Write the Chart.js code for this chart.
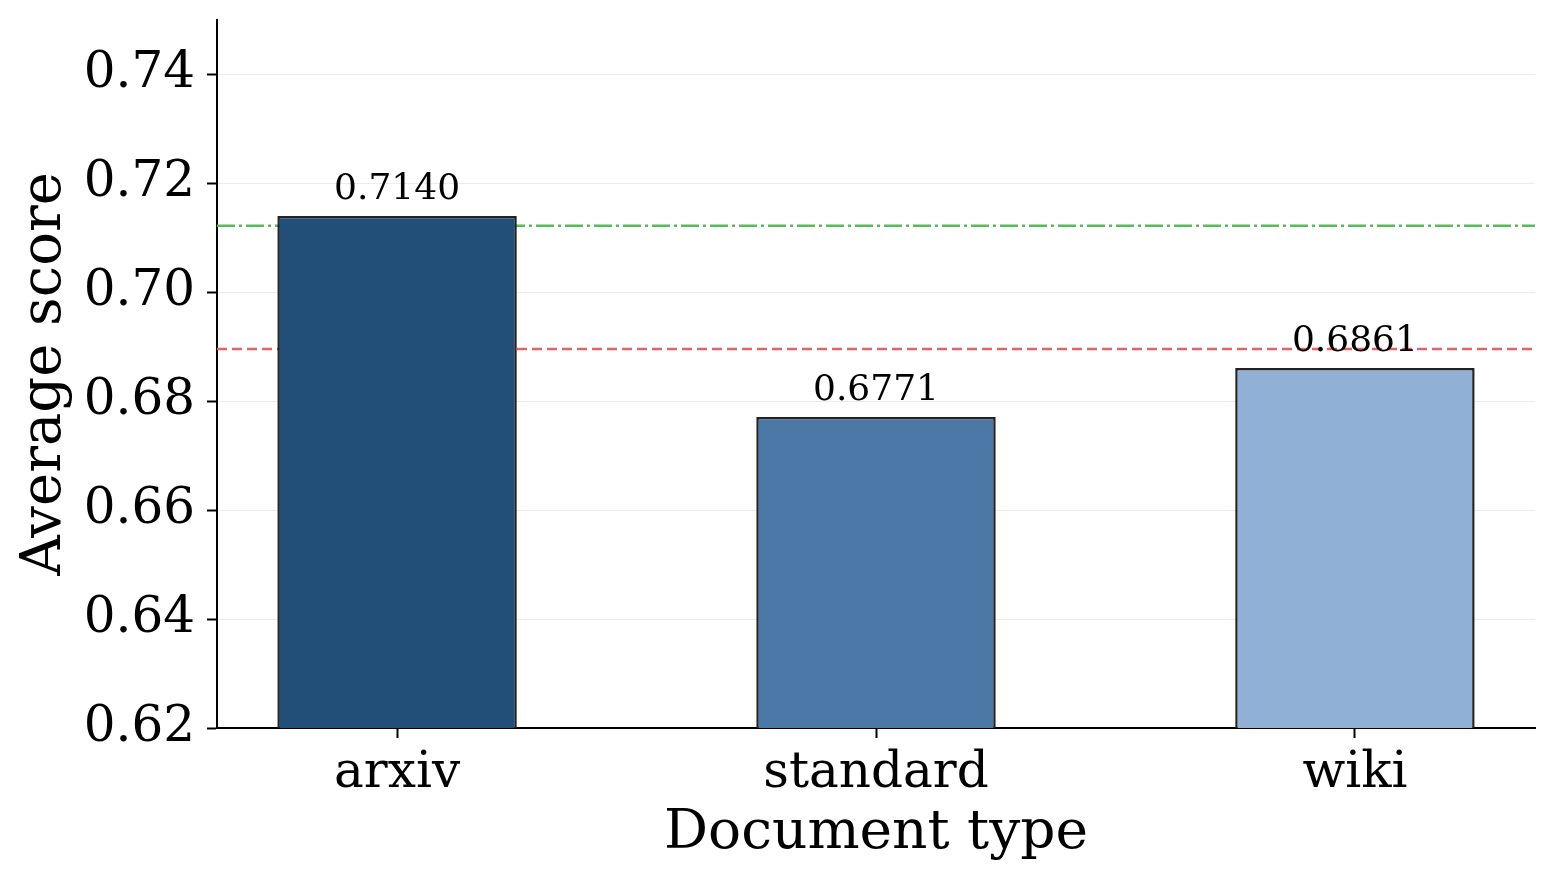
<!DOCTYPE html>
<html>
<head>
<meta charset="utf-8">
<script src="https://cdn.jsdelivr.net/npm/chart.js@4.4.1/dist/chart.umd.min.js"></script>
<style>
  html, body { margin: 0; padding: 0; background: #ffffff; }
  #wrap { width: 1555px; height: 883px; }
</style>
</head>
<body>
<div id="wrap"><canvas id="c" width="1555" height="883"></canvas></div>
<script>
// ---- data ----
const categories = ["arxiv", "standard", "wiki"];
const scores = [0.7140, 0.6771, 0.6861];
const barColors = ["#214f78", "#4c78a8", "#90b0d5"];
const refGreen = 0.7122;   // dash-dot reference line
const refRed = 0.6896;     // dashed reference line
const yTicks = [0.62, 0.64, 0.66, 0.68, 0.70, 0.72, 0.74];
const xMin = -0.376, xMax = 2.376;
const yMin = 0.62, yMax = 0.75;

const FONT = "'DejaVu Serif', serif";

const valueLabels = {
  id: 'valueLabels',
  afterDatasetsDraw(chart) {
    const meta = chart.getDatasetMeta(0);
    const ctx = chart.ctx;
    ctx.save();
    ctx.font = "36px " + FONT;
    ctx.fillStyle = "#000";
    ctx.textAlign = "center";
    ctx.textBaseline = "alphabetic";
    meta.data.forEach((el, i) => {
      ctx.fillText(scores[i].toFixed(4), el.x, el.y - 17);
    });
    ctx.restore();
  }
};

new Chart(document.getElementById('c'), {
  type: 'bar',
  data: {
    datasets: [
      {
        type: 'bar',
        data: categories.map((c, i) => ({ x: i, y: scores[i] })),
        backgroundColor: barColors,
        borderColor: "#222222",
        borderWidth: 2.5,
        borderSkipped: false,
        categoryPercentage: 1.0,
        barPercentage: 0.5,
        order: 1
      },
      {
        type: 'line',
        data: [{ x: xMin, y: refGreen }, { x: xMax, y: refGreen }],
        borderColor: "#5cb85c",
        borderWidth: 2.5,
        borderDash: [18, 4, 3, 4],
        pointRadius: 0,
        order: 2
      },
      {
        type: 'line',
        data: [{ x: xMin, y: refRed }, { x: xMax, y: refRed }],
        borderColor: "#e06666",
        borderWidth: 2.5,
        borderDash: [10, 5],
        pointRadius: 0,
        order: 2
      }
    ]
  },
  options: {
    responsive: false,
    animation: false,
    devicePixelRatio: 1,
    layout: { padding: { left: 0, right: 20, top: 20, bottom: 0 } },
    plugins: { legend: { display: false }, tooltip: { enabled: false } },
    scales: {
      x: {
        type: 'linear',
        min: xMin,
        max: xMax,
        offset: false,
        afterBuildTicks: (axis) => { axis.ticks = categories.map((c, i) => ({ value: i })); },
        afterFit: (scale) => { scale.height = 883 - 728; scale.paddingLeft = 0; scale.paddingRight = 0; },
        ticks: {
          includeBounds: false,
          autoSkip: false,
          maxRotation: 0,
          padding: 6,
          color: "#000",
          font: { family: FONT, size: 50 },
          callback: (v) => categories[v] !== undefined ? categories[v] : ''
        },
        grid: { display: true, offset: false, drawOnChartArea: false, tickLength: 10, tickColor: "#000", tickWidth: 2 },
        border: { display: true, color: "#000", width: 2 },
        title: { display: true, text: "Document type", color: "#000", font: { family: FONT, size: 55 }, padding: { top: 0, bottom: 16 } }
      },
      y: {
        min: yMin,
        max: yMax,
        afterBuildTicks: (axis) => { axis.ticks = yTicks.map(v => ({ value: v })); },
        afterFit: (scale) => { scale.width = 217; scale.paddingTop = 0; scale.paddingBottom = 0; },
        ticks: {
          includeBounds: false,
          padding: 12,
          color: "#000",
          font: { family: FONT, size: 50 },
          callback: (v) => Number(v).toFixed(2)
        },
        grid: { display: true, color: "#ececec", lineWidth: 1, tickLength: 10, tickColor: "#000", tickWidth: 2 },
        border: { display: true, color: "#000", width: 2 },
        title: { display: true, text: "Average score", color: "#000", font: { family: FONT, size: 56 }, padding: { top: 12, bottom: 0 } }
      }
    }
  },
  plugins: [valueLabels]
});
</script>
</body>
</html>
